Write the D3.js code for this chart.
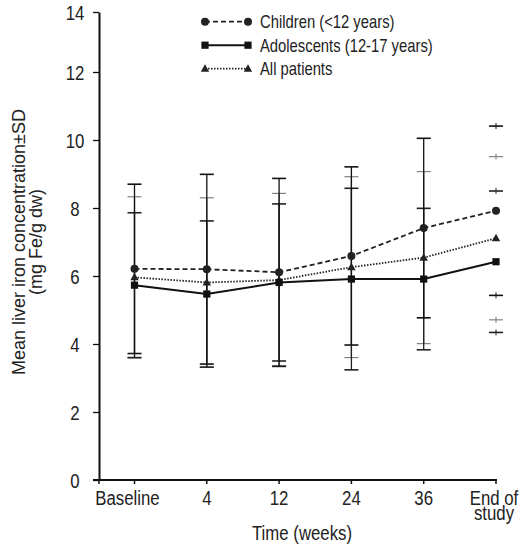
<!DOCTYPE html>
<html>
  <head>
    <meta charset="utf-8">
    <title>Liver iron concentration</title>
    <script src="https://d3js.org/d3.v7.min.js"></script>
    <style>
      body { margin: 0; background: #fff; }
      text { font-family: "Liberation Sans", Arial, sans-serif; fill: #222; }
    </style>
  </head>

  <body>
    <script>
      // data
      var categories = ["Baseline", "4", "12", "24", "36", "End of study"];
      var tickLines = [["Baseline"], ["4"], ["12"], ["24"], ["36"], ["End of", "study"]];
      var yTicks = [0, 2, 4, 6, 8, 10, 12, 14];

      var childMean = [6.21, 6.20, 6.11, 6.59, 7.41, 7.92];
      var childSD   = [2.49, 2.79, 2.76, 2.62, 2.64, 2.49];
      var adolMean  = [5.73, 5.47, 5.81, 5.91, 5.91, 6.42];
      var adolSD    = [2.13, 2.15, 2.31, 2.67, 2.08, 2.08];
      var allMean   = [5.96, 5.81, 5.88, 6.26, 6.54, 7.11];
      var allSD     = [2.37, 2.49, 2.55, 2.66, 2.53, 2.40];

      var series = [
        {name: "Children (<12 years)", mean: childMean, sd: childSD, marker: "circle",
         dash: "5,3", color: "#222", bar: "#111", barW: 1.6},
        {name: "Adolescents (12-17 years)", mean: adolMean, sd: adolSD, marker: "square",
         dash: null, color: "#111", bar: "#222", barW: 1.6},
        {name: "All patients", mean: allMean, sd: allSD, marker: "triangle",
         dash: "1.5,1.5", color: "#222", bar: "#777", barW: 1.1}
      ];

      var width = 519, height = 549;
      var svg = d3.select("body")
        .append("svg")
          .attr("width", width)
          .attr("height", height);

      // the printed font is a condensed grotesque; squeeze Liberation Sans to match
      var squeeze = 0.8;
      function narrowText(parent, tx, ty, anchor, size, lines, lineGap) {
        var t = parent.append("text")
            .attr("transform", "translate(" + tx + "," + ty + ") scale(" + squeeze + ",1)")
            .attr("text-anchor", anchor)
            .style("font-size", size + "px");
        lines.forEach(function(s, j) {
          t.append("tspan").attr("x", 0).attr("dy", j === 0 ? 0 : lineGap).text(s);
        });
        return t;
      }

      var x = d3.scalePoint()
          .domain(categories)
          .range([134.5, 496]);

      // the top segment (12-14) of the printed axis is shorter than the rest
      var y = d3.scaleLinear()
          .domain([0, 12, 14])
          .range([480, 72, 12]);

      var x0 = 99;

      // y axis
      var yAxis = svg.append("g")
          .attr("transform", "translate(" + x0 + ",0)")
          .call(d3.axisLeft(y).tickValues(yTicks).tickSize(6).tickSizeOuter(0).tickFormat(""));
      yAxis.select(".domain").attr("stroke-width", 2).attr("stroke", "#111");
      yAxis.selectAll(".tick line").attr("stroke-width", 1.3).attr("stroke", "#111");
      yTicks.forEach(function(v) {
        narrowText(svg, 75, y(v) + 7.5, "middle", 21, [String(v)]);
      });

      // x axis
      var xg = svg.append("g").attr("transform", "translate(0," + y(0) + ")");
      xg.append("line")
          .attr("x1", x0 - 6).attr("x2", x.range()[1] + 1)
          .attr("stroke", "#111").attr("stroke-width", 2);
      xg.selectAll(".xt")
        .data([x0].concat(categories.map(function(c) { return x(c); })))
        .enter().append("line")
          .attr("x1", function(d) { return d; })
          .attr("x2", function(d) { return d; })
          .attr("y1", 0).attr("y2", 4)
          .attr("stroke", "#111").attr("stroke-width", 1.5);
      categories.forEach(function(c, i) {
        var dx = i === 0 ? -7 : (i === categories.length - 1 ? -2 : 0);
        narrowText(xg, x(c) + dx, 25, "middle", 21, tickLines[i], 15);
      });

      // titles
      narrowText(svg, 302, 540, "middle", 21, ["Time (weeks)"]);

      var yt = svg.append("text")
          .attr("transform", "translate(25,242) rotate(-90)")
          .attr("text-anchor", "middle")
          .style("font-size", "18px");
      yt.append("tspan").attr("x", 0).attr("dy", 0).text("Mean liver iron concentration\u00b1SD");
      yt.append("tspan").attr("x", 0).attr("dy", 17).text("(mg Fe/g dw)");

      // error bars (all patients first so the group bars sit on top)
      var last = categories.length - 1;
      series.slice().reverse().forEach(function(s) {
        var g = svg.append("g");
        categories.forEach(function(c, i) {
          var cx = x(c), hi = y(s.mean[i] + s.sd[i]), lo = y(s.mean[i] - s.sd[i]);
          if (i < last) {
            g.append("line")
              .attr("x1", cx).attr("x2", cx).attr("y1", hi).attr("y2", lo)
              .attr("stroke", s.bar).attr("stroke-width", 1.3);
          } else {
            [hi, lo].forEach(function(v) {
              g.append("line")
                .attr("x1", cx).attr("x2", cx).attr("y1", v - 3).attr("y2", v + 3)
                .attr("stroke", s.bar).attr("stroke-width", 1);
            });
          }
          [hi, lo].forEach(function(v) {
            g.append("line")
              .attr("x1", cx - 7).attr("x2", cx + 7).attr("y1", v).attr("y2", v)
              .attr("stroke", s.bar).attr("stroke-width", s.barW);
          });
        });
      });

      function drawMarker(g, type, cx, cy, color) {
        if (type === "circle") {
          g.append("circle").attr("cx", cx).attr("cy", cy).attr("r", 4).attr("fill", color);
        } else if (type === "square") {
          g.append("rect").attr("x", cx - 3.6).attr("y", cy - 3.6)
            .attr("width", 7.2).attr("height", 7.2).attr("fill", color);
        } else {
          g.append("path")
            .attr("d", "M" + cx + "," + (cy - 4.5) + "L" + (cx + 4.2) + "," + (cy + 3) +
                       "L" + (cx - 4.2) + "," + (cy + 3) + "Z")
            .attr("fill", color);
        }
      }

      var line = d3.line()
          .x(function(d, i) { return x(categories[i]); })
          .y(function(d) { return y(d); });

      series.slice().reverse().forEach(function(s) {
        var g = svg.append("g");
        g.append("path")
          .attr("d", line(s.mean))
          .attr("fill", "none")
          .attr("stroke", s.color)
          .attr("stroke-width", s.dash ? 1.8 : 2)
          .attr("stroke-dasharray", s.dash);
        s.mean.forEach(function(v, i) {
          drawMarker(g, s.marker, x(categories[i]), y(v), s.color);
        });
      });

      // legend
      var legend = svg.append("g");
      series.forEach(function(s, i) {
        var ly = 21.7 + i * 23.5;
        var row = legend.append("g");
        row.append("line")
          .attr("x1", 205).attr("x2", 248).attr("y1", ly).attr("y2", ly)
          .attr("stroke", s.color).attr("stroke-width", s.dash ? 1.8 : 2)
          .attr("stroke-dasharray", s.dash);
        drawMarker(row, s.marker, 205, ly, s.color);
        drawMarker(row, s.marker, 248, ly, s.color);
        narrowText(row, 260, ly + 6.5, "start", 18.5, [s.name]);
      });
    </script>
  </body>
</html>
